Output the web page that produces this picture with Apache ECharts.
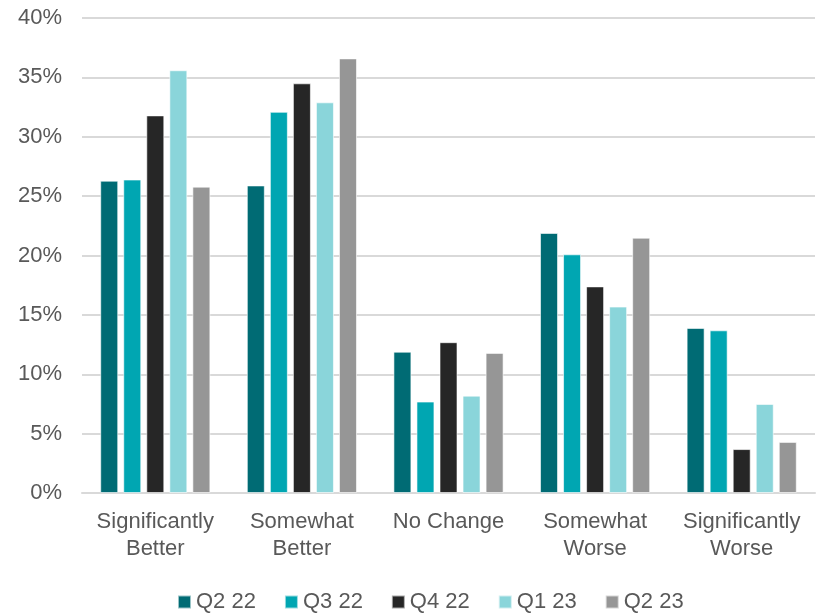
<!DOCTYPE html>
<html>
<head>
<meta charset="utf-8">
<script src="https://cdn.jsdelivr.net/npm/echarts@6/dist/echarts.min.js"></script>
<style>
  html, body { margin: 0; padding: 0; background: #fff; }
  #chart { width: 823px; height: 614px; }
</style>
</head>
<body>
<div id="chart"></div>
<script>
// categories and series values (percent)
const categories = ['Significantly\nBetter', 'Somewhat\nBetter', 'No Change', 'Somewhat\nWorse', 'Significantly\nWorse'];
const seriesNames = ['Q2 22', 'Q3 22', 'Q4 22', 'Q1 23', 'Q2 23'];
const q2_22 = [26.3, 25.9, 11.9, 21.9, 13.9];
const q3_22 = [26.4, 32.1, 7.7, 20.1, 13.7];
const q4_22 = [31.8, 34.5, 12.7, 17.4, 3.7];
const q1_23 = [35.6, 32.9, 8.2, 15.7, 7.5];
const q2_23 = [25.8, 36.6, 11.8, 21.5, 4.3];
const colors = ['#006b74', '#00a6b2', '#262626', '#8ad5da', '#969696'];

const myChart = echarts.init(document.getElementById('chart'));

const allData = [q2_22, q3_22, q4_22, q1_23, q2_23];
const option = {
  animation: false,
  textStyle: { fontFamily: 'Liberation Sans, Arial, sans-serif' },
  grid: { left: 82, right: 8, top: 18, bottom: 121 },
  legend: {
    bottom: -4,
    left: 172,
    itemWidth: 13,
    itemHeight: 13,
    itemGap: 28,
    icon: 'rect',
    textStyle: { color: '#595959', fontSize: 22 },
    data: seriesNames
  },
  xAxis: {
    type: 'category',
    data: categories,
    axisLine: { lineStyle: { color: '#d9d9d9', width: 2 } },
    axisTick: { show: false },
    axisLabel: { color: '#595959', fontSize: 22, lineHeight: 27, margin: 15, interval: 0 }
  },
  yAxis: {
    type: 'value',
    min: 0,
    max: 40,
    interval: 5,
    axisLine: { show: false },
    axisTick: { show: false },
    splitLine: { lineStyle: { color: '#d9d9d9', width: 2 } },
    axisLabel: { color: '#595959', fontSize: 22, margin: 20, formatter: '{value}%' }
  },
  series: seriesNames.map((name, i) => ({
    name: name,
    type: 'bar',
    data: allData[i],
    barWidth: 18,
    barGap: '28%',
    itemStyle: { color: colors[i], borderColor: 'rgba(255,255,255,0.6)', borderWidth: 1 }
  }))
};

myChart.setOption(option);
</script>
</body>
</html>
